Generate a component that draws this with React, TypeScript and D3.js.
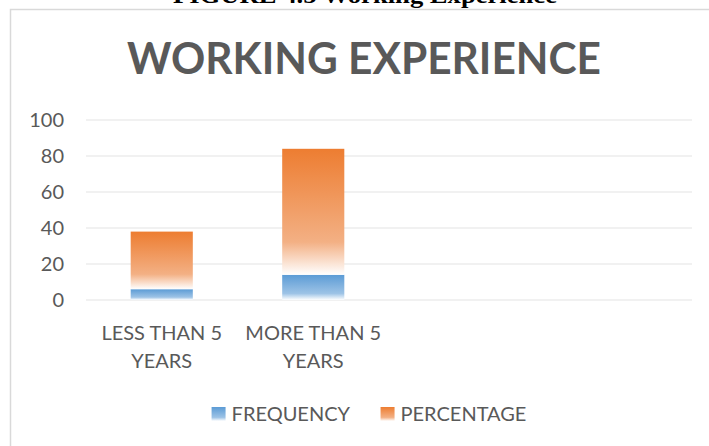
import React, { useEffect, useRef } from 'react';
import * as d3 from 'd3';

// chart values
const categories = ['LESS THAN 5 YEARS', 'MORE THAN 5 YEARS', ' ', '  '];
const frequency = [6, 14];
const percentage = [32, 70];
const seriesNames = ['FREQUENCY', 'PERCENTAGE'];
const yTicks = [0, 20, 40, 60, 80, 100];

const W = 709;
const H = 446;
const FONT = 'Lato, "Open Sans", sans-serif';
const TEXT = '#595959';

const App: React.FC = () => {
    const svgRef = useRef<SVGSVGElement>(null);

    useEffect(() => {
        if (!svgRef.current) return;
        const svg = d3.select(svgRef.current);
        svg.selectAll('*').remove();

        const margin = { top: 120, right: 17, bottom: 146, left: 86 };
        const innerW = W - margin.left - margin.right;
        const innerH = H - margin.top - margin.bottom;

        const rows = categories.map((c, i) => ({
            cat: c,
            FREQUENCY: frequency[i] ?? 0,
            PERCENTAGE: percentage[i] ?? 0,
        }));

        const x = d3.scaleBand<string>()
            .domain(categories)
            .range([0, innerW])
            .paddingInner(0.59)
            .paddingOuter(0.295);

        const y = d3.scaleLinear().domain([0, 100]).range([innerH, 0]);

        const color = d3.scaleOrdinal<string, string>()
            .domain(seriesNames)
            .range(['#5B9BD5', '#ED7D31']);
        const light = d3.scaleOrdinal<string, string>()
            .domain(seriesNames)
            .range(['#9DC3E6', '#F3B084']);

        // gradients like the Excel fill
        const defs = svg.append('defs');
        seriesNames.forEach((s, i) => {
            const g = defs.append('linearGradient')
                .attr('id', `grad-${i}`)
                .attr('x1', 0).attr('y1', 0).attr('x2', 0).attr('y2', 1);
            g.append('stop').attr('offset', '0%').attr('stop-color', color(s));
            g.append('stop').attr('offset', '74%').attr('stop-color', light(s));
            g.append('stop').attr('offset', '100%').attr('stop-color', '#ffffff');
        });

        // figure caption, cut off at the top
        svg.append('text')
            .attr('x', 365)
            .attr('y', 3)
            .attr('text-anchor', 'middle')
            .attr('font-family', '"Liberation Serif", "Times New Roman", serif')
            .attr('font-weight', 'bold')
            .attr('font-size', 24)
            .attr('textLength', 384)
            .attr('lengthAdjust', 'spacingAndGlyphs')
            .text('FIGURE 4.5 Working Experience');

        // chart frame
        svg.append('rect')
            .attr('x', 10.5).attr('y', 9.5)
            .attr('width', W + 20).attr('height', H + 20)
            .attr('fill', '#fff')
            .attr('stroke', '#d9d9d9')
            .attr('stroke-width', 1.5);

        svg.append('text')
            .attr('x', 364)
            .attr('y', 74)
            .attr('text-anchor', 'middle')
            .attr('font-family', FONT)
            .attr('font-weight', 'bold')
            .attr('font-size', 43)
            .attr('fill', TEXT)
            .attr('textLength', 474)
            .attr('lengthAdjust', 'spacingAndGlyphs')
            .text('WORKING EXPERIENCE');

        const g = svg.append('g').attr('transform', `translate(${margin.left},${margin.top})`);

        // grid
        g.selectAll('.grid')
            .data(yTicks)
            .join('line')
            .attr('x1', 0).attr('x2', innerW)
            .attr('y1', d => y(d)).attr('y2', d => y(d))
            .attr('stroke', '#ececec')
            .attr('stroke-width', 1.5);

        // y axis labels
        const yAxis = g.append('g')
            .call(d3.axisLeft(y).tickValues(yTicks).tickSize(0).tickPadding(22) as any);
        yAxis.select('.domain').remove();
        yAxis.selectAll('text')
            .attr('fill', TEXT)
            .style('font-family', FONT)
            .style('font-size', '20px');

        // stacked bars
        const stacked = d3.stack<any>().keys(seriesNames)(rows);
        stacked.forEach((layer, i) => {
            g.append('g')
                .selectAll('rect')
                .data(layer.filter(d => d[1] - d[0] > 0))
                .join('rect')
                .attr('x', d => x(d.data.cat)!)
                .attr('width', x.bandwidth())
                .attr('y', d => y(d[1]))
                .attr('height', d => y(d[0]) - y(d[1]))
                .attr('fill', `url(#grad-${i})`);
        });

        // category labels, wrapped to the band width
        const xAxis = g.append('g').attr('transform', `translate(0,${innerH})`);
        categories.forEach(c => {
            if (!c.trim()) return;
            const cx = x(c)! + x.bandwidth() / 2;
            const t = xAxis.append('text')
                .attr('x', cx)
                .attr('y', 40)
                .attr('text-anchor', 'middle')
                .attr('fill', TEXT)
                .attr('font-family', FONT)
                .attr('font-size', 20);
            const words = c.split(' ');
            let line: string[] = [];
            let lineNo = 0;
            let tspan = t.append('tspan').attr('x', cx).attr('dy', 0);
            words.forEach(w => {
                line.push(w);
                tspan.text(line.join(' '));
                if ((tspan.node() as SVGTSpanElement).getComputedTextLength() > x.step() && line.length > 1) {
                    line.pop();
                    tspan.text(line.join(' '));
                    line = [w];
                    lineNo++;
                    tspan = t.append('tspan').attr('x', cx).attr('dy', 28).text(w);
                }
            });
        });

        // legend, centred under the chart
        const legend = svg.append('g').attr('transform', 'translate(0,421)');
        const items = seriesNames.map((s, i) => {
            const it = legend.append('g');
            it.append('rect')
                .attr('x', 0).attr('y', -14)
                .attr('width', 14).attr('height', 14)
                .attr('fill', `url(#grad-${i})`);
            it.append('text')
                .attr('x', 20)
                .attr('y', 0)
                .attr('fill', TEXT)
                .attr('font-family', FONT)
                .attr('font-size', 20)
                .text(s);
            return it;
        });
        const widths = items.map(it => (it.node() as SVGGElement).getBBox().width);
        const gap = 30;
        const total = d3.sum(widths) + gap * (items.length - 1);
        let cursor = 369 - total / 2;
        items.forEach((it, i) => {
            it.attr('transform', `translate(${cursor},0)`);
            cursor += widths[i] + gap;
        });
    }, []);

    return (
        <svg
            ref={svgRef}
            width={W}
            height={H}
            style={{ position: 'absolute', left: 0, top: 0, background: '#fff' }}
        />
    );
};

export default App;
